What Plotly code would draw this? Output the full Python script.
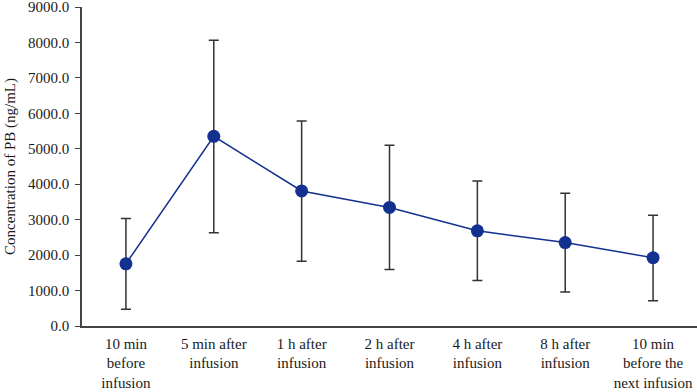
import plotly.graph_objects as go

categories = ["10 min<br>before<br>infusion", "5 min after<br>infusion", "1 h after<br>infusion",
              "2 h after<br>infusion", "4 h after<br>infusion", "8 h after<br>infusion",
              "10 min<br>before the<br>next infusion"]
means = [1755, 5350, 3810, 3345, 2685, 2355, 1925]
err_plus = [1280, 2715, 1975, 1755, 1405, 1390, 1200]
err_minus = [1285, 2720, 1980, 1750, 1400, 1395, 1210]
y_ticks = [0, 1000, 2000, 3000, 4000, 5000, 6000, 7000, 8000, 9000]
y_tick_labels = [f"{v:.1f}" for v in y_ticks]

FONT = "Liberation Serif"
BLUE = "#13318f"

fig = go.Figure()
fig.add_trace(go.Scatter(
    x=categories, y=means, mode="lines+markers",
    line=dict(color=BLUE, width=1.5),
    marker=dict(color=BLUE, size=13),
    error_y=dict(type="data", symmetric=False, array=err_plus, arrayminus=err_minus,
                 color="#333333", thickness=1.5, width=5),
    showlegend=False,
))

fig.update_layout(
    width=697, height=392,
    margin=dict(l=82, r=0, t=7, b=66),
    paper_bgcolor="white", plot_bgcolor="white",
    font=dict(family=FONT, size=15, color="#1a1a1a"),
)
fig.update_xaxes(
    type="category", range=[-0.5, 6.5],
    showline=True, linecolor="#444444", linewidth=1.5,
    ticks="", showgrid=False, zeroline=False,
    tickfont=dict(family=FONT, size=15),
    ticklabelstandoff=3,
    ticklabeloverflow="allow", automargin=False,
)
fig.update_yaxes(
    range=[0, 9000], tickvals=y_ticks, ticktext=y_tick_labels,
    showline=True, linecolor="#444444", linewidth=1.5,
    ticks="outside", ticklen=5, tickcolor="#444444",
    showgrid=False, zeroline=False,
    title=dict(text="Concentration of PB (ng/mL)", font=dict(family=FONT, size=15), standoff=9),
    tickfont=dict(family=FONT, size=15),
    ticklabelstandoff=3,
    ticklabeloverflow="allow", automargin=False,
)

fig.write_html("out.html", config={"displayModeBar": False},
               post_script="document.body.style.margin='0';")
